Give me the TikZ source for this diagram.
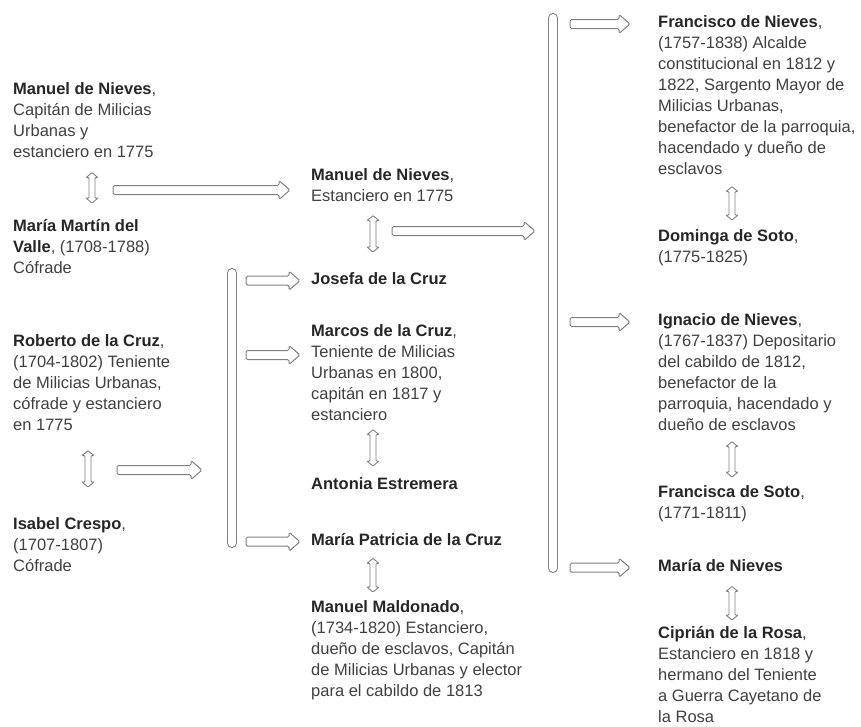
\documentclass[tikz,border=0pt]{standalone}
\usepackage{fontspec}
\setmainfont{Liberation Sans}
\usetikzlibrary{calc}
\definecolor{arrowgray}{RGB}{128,128,128}
\definecolor{textgray}{RGB}{64,64,64}
\newcommand{\pname}[1]{\textbf{\color{black!85}#1}}

\begin{document}
\begin{tikzpicture}[x=1pt, y=-1pt,
    person/.style={anchor=north west, inner sep=0pt, align=left, text=textgray,
        font=\fontsize{16.5}{21}\selectfont,
        execute at begin node=\strut, execute at end node=\strut},
    % block arrow, height taken from the start point
    hollow/.style={draw=arrowgray, line width=1pt, fill=white, rounded corners=1.5pt,
        to path={let \p1=(\tikztostart), \p2=(\tikztotarget) in
            (\x1,\y1+4.5pt) -- (\x2-11pt,\y1+4.5pt) -- (\x2-11pt,\y1+9.5pt) -- (\x2,\y1)
            -- (\x2-11pt,\y1-9.5pt) -- (\x2-11pt,\y1-4.5pt) -- (\x1,\y1-4.5pt) -- cycle}},
    % block arrow, height taken from the target
    feed/.style={draw=arrowgray, line width=1pt, fill=white, rounded corners=1.5pt,
        to path={let \p1=(\tikztostart), \p2=(\tikztotarget) in
            (\x1,\y2+4.5pt) -- (\x2-11pt,\y2+4.5pt) -- (\x2-11pt,\y2+9.5pt) -- (\x2,\y2)
            -- (\x2-11pt,\y2-9.5pt) -- (\x2-11pt,\y2-4.5pt) -- (\x1,\y2-4.5pt) -- cycle}},
    couple/.style={draw=arrowgray, line width=0.9pt, fill=white, rounded corners=0.8pt,
        to path={let \p1=(\tikztostart), \p2=(\tikztotarget) in
            (\x1,\y1) -- (\x1+6pt,\y1-5pt) -- (\x1+3pt,\y1-5pt) -- (\x1+3pt,\y2+5pt)
            -- (\x1+6pt,\y2+5pt) -- (\x1,\y2) -- (\x1-6pt,\y2+5pt) -- (\x1-3pt,\y2+5pt)
            -- (\x1-3pt,\y1-5pt) -- (\x1-6pt,\y1-5pt) -- cycle}},
    bar/.style={draw=arrowgray, line width=1.1pt, double=white, double distance=8pt, line cap=round}]
    \useasboundingbox (0,0) rectangle (861,726);

    % first generation
    \node[person] (manuel1) at (13,82) {\pname{Manuel de Nieves},\\ Capitán de Milicias\\ Urbanas y\\ estanciero en 1775};
    \node[person] (maria1) at (13,219) {\pname{María Martín del}\\ \pname{Valle}, (1708-1788)\\ Cófrade};
    \node[person] (roberto) at (13,334) {\pname{Roberto de la Cruz},\\ (1704-1802) Teniente\\ de Milicias Urbanas,\\ cófrade y estanciero\\ en 1775};
    \node[person] (isabel) at (13,517) {\pname{Isabel Crespo},\\ (1707-1807)\\ Cófrade};

    % second generation
    \node[person] (manuel2) at (311,168) {\pname{Manuel de Nieves},\\ Estanciero en 1775};
    \node[person] (josefa) at (311,270) {\pname{Josefa de la Cruz}};
    \node[person] (marcos) at (311,324) {\pname{Marcos de la Cruz},\\ Teniente de Milicias\\ Urbanas en 1800,\\ capitán en 1817 y\\ estanciero};
    \node[person] (antonia) at (311,475) {\pname{Antonia Estremera}};
    \node[person] (patricia) at (311,531) {\pname{María Patricia de la Cruz}};
    \node[person] (maldonado) at (311,600) {\pname{Manuel Maldonado},\\ (1734-1820) Estanciero,\\ dueño de esclavos, Capitán\\ de Milicias Urbanas y elector\\ para el cabildo de 1813};

    % third generation
    \node[person] (francisco) at (658,15) {\pname{Francisco de Nieves},\\ (1757-1838) Alcalde\\ constitucional en 1812 y\\ 1822, Sargento Mayor de\\ Milicias Urbanas,\\ benefactor de la parroquia,\\ hacendado y dueño de\\ esclavos};
    \node[person] (dominga) at (658,229) {\pname{Dominga de Soto},\\ (1775-1825)};
    \node[person] (ignacio) at (658,313) {\pname{Ignacio de Nieves},\\ (1767-1837) Depositario\\ del cabildo de 1812,\\ benefactor de la\\ parroquia, hacendado y\\ dueño de esclavos};
    \node[person] (francisca) at (658,485) {\pname{Francisca de Soto},\\ (1771-1811)};
    \node[person] (marian) at (658,557) {\pname{María de Nieves}};
    \node[person] (ciprian) at (658,626) {\pname{Ciprián de la Rosa},\\ Estanciero en 1818 y\\ hermano del Teniente\\ a Guerra Cayetano de\\ la Rosa};

    % marriages
    \draw[couple] ([xshift=79pt,yshift=-9pt]manuel1.south west) to ([xshift=79pt,yshift=16pt]maria1.north west);
    \draw[couple] ([xshift=75pt,yshift=-14pt]roberto.south west) to ([xshift=75pt,yshift=30pt]isabel.north west);
    \draw[couple] ([xshift=62pt,yshift=-8pt]manuel2.south west) to ([xshift=62pt,yshift=18pt]josefa.north west);
    \draw[couple] ([xshift=62pt,yshift=-3pt]marcos.south west) to ([xshift=62pt,yshift=9pt]antonia.north west);
    \draw[couple] ([xshift=62pt,yshift=-6pt]patricia.south west) to ([xshift=62pt,yshift=8pt]maldonado.north west);
    \draw[couple] ([xshift=74pt,yshift=-6pt]francisco.south west) to ([xshift=74pt,yshift=9pt]dominga.north west);
    \draw[couple] ([xshift=74pt,yshift=-5pt]ignacio.south west) to ([xshift=74pt,yshift=8pt]francisca.north west);
    \draw[couple] ([xshift=74pt,yshift=-8pt]marian.south west) to ([xshift=74pt,yshift=6pt]ciprian.north west);

    % children brackets
    \coordinate (bar1top) at (232,273);
    \coordinate (bar1bot) at (232,543);
    \coordinate (bar2top) at (553,18);
    \coordinate (bar2bot) at (553,568);
    \draw[bar] (bar1top) -- (bar1bot);
    \draw[bar] (bar2top) -- (bar2bot);

    \coordinate (wed1) at (113,190);
    \coordinate (wed2) at (117,470);
    \coordinate (wed3) at (392,231);
    \draw[hollow] (wed1) to ([xshift=-21pt]manuel2.west);
    \draw[hollow] (wed2) to ([xshift=-30pt]bar1top);
    \draw[hollow] (wed3) to ([xshift=-18pt]bar2top);

    \coordinate (marcos in) at ([yshift=-31pt]marcos.north west);
    \coordinate (francisco in) at ([yshift=-9pt]francisco.north west);
    \coordinate (ignacio in) at ([yshift=-9pt]ignacio.north west);
    \draw[feed] ([xshift=14pt]bar1top) to ([xshift=-11pt]josefa.west);
    \draw[feed] ([xshift=14pt]bar1top) to ([xshift=-11pt]marcos in);
    \draw[feed] ([xshift=14pt]bar1top) to ([xshift=-11pt]patricia.west);
    \draw[feed] ([xshift=17pt]bar2top) to ([xshift=-28pt]francisco in);
    \draw[feed] ([xshift=17pt]bar2top) to ([xshift=-28pt]ignacio in);
    \draw[feed] ([xshift=17pt]bar2top) to ([xshift=-28pt]marian.west);
\end{tikzpicture}
\end{document}
